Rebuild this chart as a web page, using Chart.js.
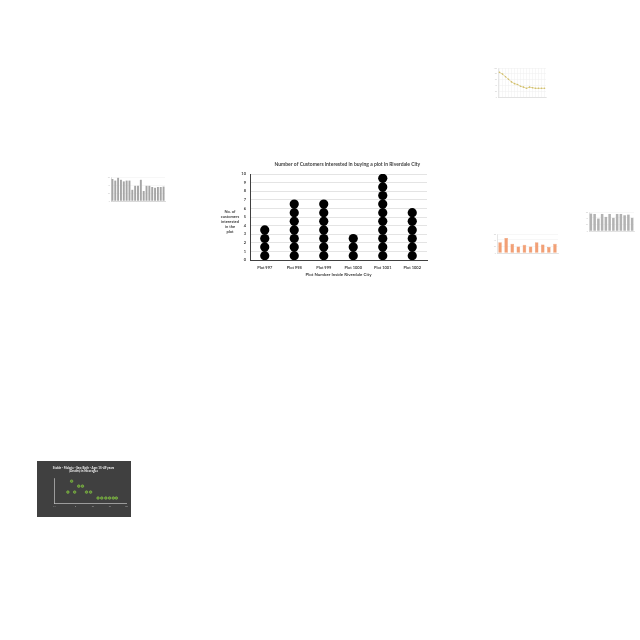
<!DOCTYPE html>
<html>
<head>
<meta charset="utf-8">
<script src="https://cdn.jsdelivr.net/npm/chart.js@4.4.1/dist/chart.umd.min.js"></script>
<style>
  html, body { margin: 0; padding: 0; background: #ffffff; }
  body { width: 640px; height: 640px; position: relative; overflow: hidden; }
  canvas { position: absolute; display: block; }
</style>
</head>
<body>
<canvas id="main" width="220" height="128" style="left:215px;top:152px;width:220px;height:128px;"></canvas>
<canvas id="tLine" width="64" height="56" style="left:486px;top:62px;width:64px;height:56px;"></canvas>
<canvas id="tBarLeft" width="74" height="42" style="left:98px;top:170px;width:74px;height:42px;"></canvas>
<canvas id="tBarOrange" width="76" height="50" style="left:486px;top:224px;width:76px;height:50px;"></canvas>
<canvas id="tBarRight" width="60" height="40" style="left:580px;top:202px;width:60px;height:40px;"></canvas>
<canvas id="tScatter" width="94" height="56" style="left:37px;top:461px;width:94px;height:56px;background:#404040;"></canvas>
<script>
// ---------- main chart data ----------
const plotLabels = ['Plot 997', 'Plot 998', 'Plot 999', 'Plot 1000', 'Plot 1001', 'Plot 1002'];
const customerCounts = [4, 7, 7, 3, 10, 6];
const mainTitle = 'Number of Customers interested in buying a plot in Riverdale City';
const xAxisTitle = 'Plot Number Inside Riverdale City';
const yAxisTitleLines = ['No. of', 'customers', 'interested', 'in the', 'plot'];
const yMin = 0, yMax = 10;

// ---------- thumbnail data ----------
const lineThumbValues = [85, 79, 70, 61, 52, 46, 43, 37, 34, 30, 34, 32, 30, 30, 30, 30];
const leftBarValues = [55, 51, 58, 53, 49, 51, 51, 28, 38, 38, 53, 25, 38, 38, 35, 33, 35, 35, 36];
const orangeBarValues = [33, 46, 28, 20, 25, 20, 33, 26, 18, 28];
const rightBarValues = [53, 52, 38, 52, 43, 52, 40, 52, 52, 48, 50, 40];
const scatterX = [2.7, 3.8, 4.7, 5.9, 7.0, 8.2, 9.4, 11.6, 12.7, 13.9, 15.0, 16.1, 17.0];
const scatterY = [11, 22, 11, 17, 17, 11, 11, 5, 5, 5, 5, 5, 5];
const scatterTitle = ['Stable - Malaria - Sex: Both - Age: 15-49 years', '(Deaths) in Nicaragua'];

Chart.defaults.animation = false;
Chart.defaults.font.family = 'Lato, "Liberation Sans", sans-serif';

// build dot points from counts
const dotPoints = [];
plotLabels.forEach((lab, i) => {
  for (let k = 0; k < customerCounts[i]; k++) dotPoints.push({ x: lab, y: k + 0.5 });
});

const textPlugin = {
  id: 'mainTexts',
  afterDraw(chart) {
    const ctx = chart.ctx;
    const ca = chart.chartArea;
    ctx.save();
    ctx.fillStyle = '#404040';
    ctx.textAlign = 'center';
    ctx.textBaseline = 'middle';
    // chart title
    ctx.font = 'bold 5px Lato, "Liberation Sans", sans-serif';
    ctx.fillText(mainTitle, ca.left + (ca.right - ca.left) * 0.55, 12);
    // horizontal y-axis title
    ctx.font = 'bold 4px Lato, "Liberation Sans", sans-serif';
    const cx = 15;
    const mid = (ca.top + ca.bottom) / 2 + 5;
    const lh = 5;
    const startY = mid - (yAxisTitleLines.length - 1) * lh / 2;
    yAxisTitleLines.forEach((t, i) => ctx.fillText(t, cx, startY + i * lh));
    ctx.restore();
  }
};

new Chart(document.getElementById('main'), {
  type: 'line',
  data: {
    labels: plotLabels,
    datasets: [{
      data: dotPoints,
      showLine: false,
      pointRadius: 4.6,
      pointHoverRadius: 4.6,
      pointBackgroundColor: '#000000',
      pointBorderWidth: 0,
      borderColor: '#000000'
    }]
  },
  options: {
    responsive: false,
    devicePixelRatio: 1,
    layout: { padding: { top: 22, right: 8, bottom: 0, left: 0 } },
    plugins: {
      legend: { display: false },
      tooltip: { enabled: false },
      title: { display: false }
    },
    scales: {
      x: {
        type: 'category',
        offset: true,
        grid: { display: false, drawTicks: false },
        border: { display: true, color: '#404040', width: 1 },
        ticks: { color: '#404040', font: { size: 4, weight: 'bold' }, padding: 5, maxRotation: 0, autoSkip: false },
        title: { display: true, text: xAxisTitle, color: '#404040', font: { size: 4.4, weight: 'bold' }, padding: { top: 0, bottom: 3 } },
        afterFit(scale) { scale.height = 20; }
      },
      y: {
        min: yMin, max: yMax,
        grid: { color: '#d9d9d9', lineWidth: 0.7, drawTicks: false },
        border: { display: true, color: '#404040', width: 1 },
        ticks: { stepSize: 1, color: '#404040', font: { size: 4, weight: 'bold' }, padding: 4 },
        afterFit(scale) { scale.width = 35; }
      }
    }
  },
  plugins: [textPlugin]
});

// ---------- thumbnails ----------
const tinyTicks = { color: '#c8c8c8', font: { size: 2 }, padding: 1 };
const tinyGrid = { color: '#eeeeee', lineWidth: 0.5, drawTicks: false };

new Chart(document.getElementById('tLine'), {
  type: 'line',
  data: {
    labels: lineThumbValues.map((v, i) => String(i + 1)),
    datasets: [{ data: lineThumbValues, borderColor: '#d2bf6a', borderWidth: 0.6, pointRadius: 0.8, pointBackgroundColor: '#d2bf6a', pointBorderWidth: 0, tension: 0 }]
  },
  options: {
    responsive: false, devicePixelRatio: 1,
    layout: { padding: { top: 6, right: 4, left: 0, bottom: 0 } },
    plugins: { legend: { display: false }, tooltip: { enabled: false } },
    scales: {
      x: { offset: true, grid: tinyGrid, border: { color: '#cccccc', width: 0.5 }, ticks: { display: false }, afterFit(s) { s.height = 21; } },
      y: { min: 0, max: 100, grid: tinyGrid, border: { color: '#cccccc', width: 0.5 }, ticks: { stepSize: 20, ...tinyTicks }, afterFit(s) { s.width = 12; } }
    }
  }
});

new Chart(document.getElementById('tBarLeft'), {
  type: 'bar',
  data: {
    labels: leftBarValues.map((v, i) => String(i + 1)),
    datasets: [{ data: leftBarValues, backgroundColor: '#a6a6a6', barPercentage: 0.75, categoryPercentage: 0.9 }]
  },
  options: {
    responsive: false, devicePixelRatio: 1,
    layout: { padding: { top: 7, right: 7, left: 0, bottom: 0 } },
    plugins: { legend: { display: false }, tooltip: { enabled: false } },
    scales: {
      x: { grid: { display: false }, border: { color: '#bbbbbb', width: 0.5 }, ticks: { display: false }, afterFit(s) { s.height = 11; } },
      y: { min: 0, max: 60, grid: tinyGrid, border: { color: '#bbbbbb', width: 0.5 }, ticks: { stepSize: 10, ...tinyTicks }, afterFit(s) { s.width = 13; } }
    }
  }
});

new Chart(document.getElementById('tBarOrange'), {
  type: 'bar',
  data: {
    labels: orangeBarValues.map((v, i) => String(i + 1)),
    datasets: [{ data: orangeBarValues, backgroundColor: '#f2a076', borderColor: '#e98b5c', borderWidth: 0.4, barPercentage: 0.65, categoryPercentage: 0.9 }]
  },
  options: {
    responsive: false, devicePixelRatio: 1,
    layout: { padding: { top: 10, right: 4, left: 0, bottom: 0 } },
    plugins: { legend: { display: false }, tooltip: { enabled: false } },
    scales: {
      x: { grid: { display: false }, border: { color: '#cccccc', width: 0.5 }, ticks: { display: false }, afterFit(s) { s.height = 21; } },
      y: { min: 0, max: 58, grid: tinyGrid, border: { color: '#cccccc', width: 0.5 }, ticks: { stepSize: 10, ...tinyTicks }, afterFit(s) { s.width = 11; } }
    }
  }
});

new Chart(document.getElementById('tBarRight'), {
  type: 'bar',
  data: {
    labels: rightBarValues.map((v, i) => String(i + 1)),
    datasets: [{ data: rightBarValues, backgroundColor: '#b3b3b3', barPercentage: 0.75, categoryPercentage: 0.9 }]
  },
  options: {
    responsive: false, devicePixelRatio: 1,
    layout: { padding: { top: 10, right: 6, left: 0, bottom: 0 } },
    plugins: { legend: { display: false }, tooltip: { enabled: false } },
    scales: {
      x: { grid: { display: false }, border: { color: '#cccccc', width: 0.5 }, ticks: { display: false }, afterFit(s) { s.height = 11; } },
      y: { min: 0, max: 58, grid: tinyGrid, border: { color: '#cccccc', width: 0.5 }, ticks: { stepSize: 10, ...tinyTicks }, afterFit(s) { s.width = 9; } }
    }
  }
});

new Chart(document.getElementById('tScatter'), {
  type: 'scatter',
  data: {
    datasets: [{
      data: scatterX.map((x, i) => ({ x: x, y: scatterY[i] })),
      pointRadius: 1.3, pointBackgroundColor: '#5f8a35', pointBorderColor: '#92d050', pointBorderWidth: 0.5
    }]
  },
  options: {
    responsive: false, devicePixelRatio: 1,
    layout: { padding: { top: 3, right: 1, left: 0, bottom: 0 } },
    plugins: {
      legend: { display: false }, tooltip: { enabled: false },
      title: { display: true, text: scatterTitle, color: '#f2f2f2', font: { size: 3, weight: 'bold' }, padding: { top: 2, bottom: 5 } }
    },
    scales: {
      x: { type: 'linear', min: -1.4, max: 20, grid: { display: false, drawTicks: false }, border: { color: '#d9d9d9', width: 0.6 },
           ticks: { stepSize: 5, color: '#bfbfbf', font: { size: 2 }, padding: 2 }, afterFit(s) { s.height = 14; } },
      y: { min: 0, max: 25, grid: { display: false, drawTicks: false }, border: { color: '#d9d9d9', width: 0.6 },
           ticks: { display: false }, afterFit(s) { s.width = 17; } }
    }
  }
});
</script>
</body>
</html>
